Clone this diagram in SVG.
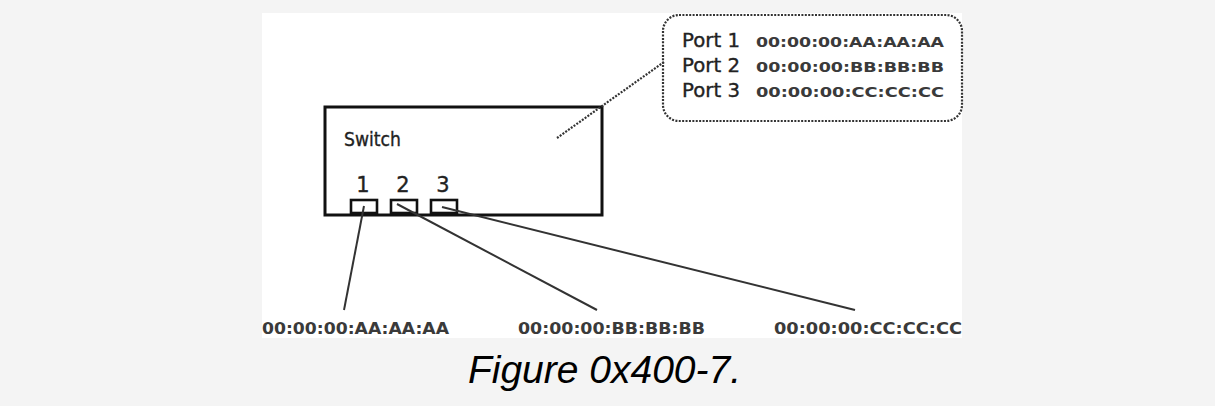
<svg xmlns="http://www.w3.org/2000/svg" width="1215" height="406" viewBox="0 0 1215 406">
<style>
.lbl{font-family:"DejaVu Sans","Liberation Sans",sans-serif;fill:#222;stroke:#222;stroke-width:0.35}
.mac{font-family:"DejaVu Sans","Liberation Sans",sans-serif;fill:#3a3a3a;font-weight:bold}
.box{fill:none;stroke:#111;stroke-width:3}
.port{fill:#fff;stroke:#111;stroke-width:2.6}
.wire{stroke:#333;stroke-width:2;fill:none}
.dot{stroke:#333;stroke-width:2.2;fill:none;stroke-dasharray:2 1.4}
.cap{font-family:"Liberation Sans",Arial,sans-serif;font-style:italic;fill:#000}
</style>
<rect x="0" y="0" width="1215" height="406" fill="#f4f4f4"/>
<rect x="262" y="13" width="700" height="325" fill="#fff"/>
<g id="switch">
<rect class="box" x="325" y="107" width="277" height="108"/>
<text class="lbl" x="344" y="146" font-size="19" textLength="57" lengthAdjust="spacingAndGlyphs">Switch</text>
<text class="lbl" x="363" y="192" font-size="21" text-anchor="middle">1</text>
<text class="lbl" x="403" y="192" font-size="21" text-anchor="middle">2</text>
<text class="lbl" x="443" y="192" font-size="21" text-anchor="middle">3</text>
</g>
<g id="port1"><rect class="port" x="351" y="200" width="26" height="13"/></g>
<g id="port2"><rect class="port" x="391" y="200" width="26" height="13"/></g>
<g id="port3"><rect class="port" x="431" y="200" width="26" height="13"/></g>
<g id="table">
<rect class="dot" x="663" y="15" width="299" height="106" rx="16" ry="16"/>
<text class="lbl" x="682" y="47" font-size="19" textLength="58" lengthAdjust="spacingAndGlyphs">Port 1</text>
<text class="lbl" x="682" y="72" font-size="19" textLength="58" lengthAdjust="spacingAndGlyphs">Port 2</text>
<text class="lbl" x="682" y="97" font-size="19" textLength="58" lengthAdjust="spacingAndGlyphs">Port 3</text>
<text class="mac" x="756" y="47" font-size="13.5" textLength="188" lengthAdjust="spacingAndGlyphs">00:00:00:AA:AA:AA</text>
<text class="mac" x="756" y="72" font-size="13.5" textLength="188" lengthAdjust="spacingAndGlyphs">00:00:00:BB:BB:BB</text>
<text class="mac" x="756" y="97" font-size="13.5" textLength="188" lengthAdjust="spacingAndGlyphs">00:00:00:CC:CC:CC</text>
</g>
<g id="hostA"><text class="mac" x="262" y="334" font-size="15" textLength="187" lengthAdjust="spacingAndGlyphs">00:00:00:AA:AA:AA</text></g>
<g id="hostB"><text class="mac" x="518" y="334" font-size="15" textLength="187" lengthAdjust="spacingAndGlyphs">00:00:00:BB:BB:BB</text></g>
<g id="hostC"><text class="mac" x="774" y="334" font-size="15" textLength="188" lengthAdjust="spacingAndGlyphs">00:00:00:CC:CC:CC</text></g>
<g id="connectors">
<line class="wire" x1="364" y1="206" x2="344" y2="310"/>
<line class="wire" x1="397" y1="204" x2="597" y2="310"/>
<line class="wire" x1="442" y1="207" x2="855" y2="310"/>
<line class="dot" x1="557" y1="138" x2="664" y2="62"/>
</g>
<text class="cap" x="604.5" y="383" font-size="39" text-anchor="middle">Figure 0x400-7.</text>
</svg>
